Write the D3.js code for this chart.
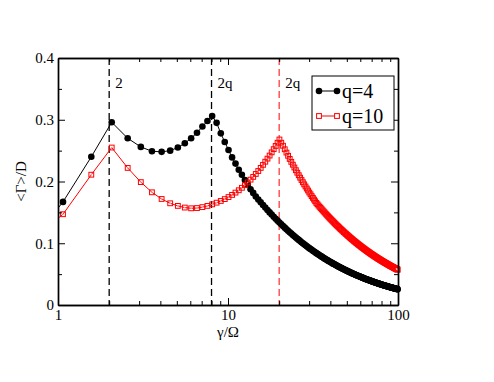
<!DOCTYPE html>
<html>
<head>
<meta charset="utf-8">
<script src="https://cdn.jsdelivr.net/npm/d3@7"></script>
<style>
body { margin: 0; background: #fff; }
svg text { font-family: "Liberation Serif", "Times New Roman", "DejaVu Serif", serif; }
</style>
</head>
<body>
<div id="container"></div>
<script>
// gamma/Omega sample points
const gamma = [
  0.57,1.07,1.57,2.07,2.57,3.07,3.57,4.07,4.57,5.07,
  5.57,6.07,6.57,7.07,7.57,8.07,8.57,9.07,9.57,10.07,
  10.57,11.07,11.57,12.07,12.57,13.07,13.57,14.07,14.57,15.07,
  15.57,16.07,16.57,17.07,17.57,18.07,18.57,19.07,19.57,20.07,
  20.57,21.07,21.57,22.07,22.57,23.07,23.57,24.07,24.57,25.07,
  25.57,26.07,26.57,27.07,27.57,28.07,28.57,29.07,29.57,30.07,
  30.57,31.07,31.57,32.07,32.57,33.07,33.57,34.07,34.57,35.07,
  35.57,36.07,36.57,37.07,37.57,38.07,38.57,39.07,39.57,40.07,
  40.57,41.07,41.57,42.07,42.57,43.07,43.57,44.07,44.57,45.07,
  45.57,46.07,46.57,47.07,47.57,48.07,48.57,49.07,49.57,50.07,
  50.57,51.07,51.57,52.07,52.57,53.07,53.57,54.07,54.57,55.07,
  55.57,56.07,56.57,57.07,57.57,58.07,58.57,59.07,59.57,60.07,
  60.57,61.07,61.57,62.07,62.57,63.07,63.57,64.07,64.57,65.07,
  65.57,66.07,66.57,67.07,67.57,68.07,68.57,69.07,69.57,70.07,
  70.57,71.07,71.57,72.07,72.57,73.07,73.57,74.07,74.57,75.07,
  75.57,76.07,76.57,77.07,77.57,78.07,78.57,79.07,79.57,80.07,
  80.57,81.07,81.57,82.07,82.57,83.07,83.57,84.07,84.57,85.07,
  85.57,86.07,86.57,87.07,87.57,88.07,88.57,89.07,89.57,90.07,
  90.57,91.07,91.57,92.07,92.57,93.07,93.57,94.07,94.57,95.07,
  95.57,96.07,96.57,97.07,97.57,98.07,98.57,99.07,99.57
];

// <Gamma>/D for q=4
const q4 = [
  0.072,0.167,0.240,0.296,0.270,0.256,0.249,0.248,0.250,0.255,
  0.262,0.270,0.279,0.289,0.298,0.306,0.295,0.278,0.264,0.251,
  0.239,0.229,0.219,0.211,0.2025,0.195,0.1875,0.1815,0.1756,0.1708,
  0.1662,0.1619,0.1577,0.1538,0.1500,0.1464,0.1430,0.1397,0.1366,0.1336,
  0.1307,0.1279,0.1253,0.1227,0.1203,0.1179,0.1156,0.1134,0.1113,0.1092,
  0.1073,0.1054,0.1035,0.1017,0.1000,0.0983,0.0967,0.0951,0.0936,0.0921,
  0.0907,0.0893,0.0879,0.0866,0.0853,0.0840,0.0828,0.0816,0.0805,0.0794,
  0.0783,0.0772,0.0762,0.0751,0.0742,0.0732,0.0722,0.0713,0.0704,0.0695,
  0.0687,0.0678,0.0670,0.0662,0.0654,0.0646,0.0639,0.0631,0.0624,0.0617,
  0.0610,0.0603,0.0597,0.0590,0.0584,0.0577,0.0571,0.0565,0.0559,0.0553,
  0.0548,0.0542,0.0537,0.0531,0.0526,0.0521,0.0515,0.0510,0.0505,0.0501,
  0.0496,0.0491,0.0486,0.0482,0.0477,0.0473,0.0469,0.0464,0.0460,0.0456,
  0.0452,0.0448,0.0444,0.0440,0.0436,0.0432,0.0429,0.0425,0.0421,0.0418,
  0.0414,0.0411,0.0408,0.0404,0.0401,0.0398,0.0394,0.0391,0.0388,0.0385,
  0.0382,0.0379,0.0376,0.0373,0.0370,0.0367,0.0364,0.0362,0.0359,0.0356,
  0.0353,0.0351,0.0348,0.0346,0.0343,0.0341,0.0338,0.0336,0.0333,0.0331,
  0.0328,0.0326,0.0324,0.0321,0.0319,0.0317,0.0315,0.0313,0.0310,0.0308,
  0.0306,0.0304,0.0302,0.0300,0.0298,0.0296,0.0294,0.0292,0.0290,0.0288,
  0.0286,0.0284,0.0283,0.0281,0.0279,0.0277,0.0275,0.0274,0.0272,0.0270,
  0.0268,0.0267,0.0265,0.0263,0.0262,0.0260,0.0259,0.0257,0.0255
];

// <Gamma>/D for q=10
const q10 = [
  0.085,0.147,0.211,0.255,0.222,0.199,0.1825,0.1717,0.1647,0.1605,
  0.1578,0.1566,0.157,0.1585,0.1605,0.163,0.1657,0.1685,0.1715,0.1748,
  0.1783,0.182,0.1858,0.1898,0.194,0.1985,0.203,0.2075,0.2122,0.217,
  0.222,0.227,0.232,0.237,0.242,0.2472,0.2524,0.2576,0.2628,0.268,
  0.2628,0.2579,0.2522,0.2468,0.2416,0.2366,0.2318,0.2272,0.2227,0.2183,
  0.2142,0.2102,0.2062,0.2024,0.1988,0.1953,0.1919,0.1886,0.1854,0.1822,
  0.1793,0.1763,0.1735,0.1707,0.1680,0.1653,0.1632,0.1611,0.1590,0.1571,
  0.1551,0.1532,0.1514,0.1496,0.1478,0.1461,0.1444,0.1427,0.1411,0.1395,
  0.1380,0.1365,0.1350,0.1335,0.1321,0.1307,0.1293,0.1280,0.1267,0.1254,
  0.1241,0.1229,0.1217,0.1205,0.1193,0.1181,0.1170,0.1159,0.1148,0.1137,
  0.1127,0.1116,0.1106,0.1096,0.1086,0.1076,0.1067,0.1057,0.1048,0.1039,
  0.1030,0.1021,0.1013,0.1004,0.0996,0.0988,0.0979,0.0971,0.0964,0.0956,
  0.0948,0.0941,0.0933,0.0926,0.0919,0.0911,0.0904,0.0898,0.0891,0.0884,
  0.0877,0.0871,0.0864,0.0858,0.0852,0.0846,0.0839,0.0833,0.0827,0.0822,
  0.0816,0.0810,0.0804,0.0799,0.0793,0.0788,0.0782,0.0777,0.0772,0.0767,
  0.0762,0.0756,0.0751,0.0747,0.0742,0.0737,0.0732,0.0727,0.0723,0.0718,
  0.0714,0.0709,0.0705,0.0700,0.0696,0.0692,0.0687,0.0683,0.0679,0.0675,
  0.0671,0.0667,0.0663,0.0659,0.0655,0.0651,0.0647,0.0643,0.0640,0.0636,
  0.0632,0.0629,0.0625,0.0622,0.0618,0.0615,0.0611,0.0608,0.0604,0.0601,
  0.0598,0.0594,0.0591,0.0588,0.0585,0.0582,0.0578,0.0575,0.0572
];

const xTicks = [1, 10, 100];
const xMinor = [2, 3, 4, 5, 6, 7, 8, 9, 20, 30, 40, 50, 60, 70, 80, 90];
const yTicks = [0, 0.1, 0.2, 0.3, 0.4];
const yMinor = [0.05, 0.15, 0.25, 0.35];

// vertical guide lines: 2 and 2q
const guides = [
  { x: 2, label: "2", color: "#000" },
  { x: 8, label: "2q", color: "#000" },
  { x: 20, label: "2q", color: "#ff3b3b" }
];

const series = [
  { name: "q=4", values: q4, color: "#000", symbol: "circle" },
  { name: "q=10", values: q10, color: "#ff0000", symbol: "square" }
];

const FONT = "'Liberation Serif', 'Times New Roman', 'DejaVu Serif', serif";

function draw() {
  const W = 494, H = 382;
  const margin = { top: 58, right: 96, bottom: 77, left: 58 };
  const width = W - margin.left - margin.right;
  const height = H - margin.top - margin.bottom;

  const svg = d3.select("#container").append("svg")
      .attr("width", W)
      .attr("height", H)
      .attr("font-family", FONT);

  const g = svg.append("g")
      .attr("transform", `translate(${margin.left},${margin.top})`);

  const x = d3.scaleLog().domain([1, 100]).range([0, width]);
  const y = d3.scaleLinear().domain([0, 0.4]).range([height, 0]);

  g.append("clipPath").attr("id", "plot-clip")
    .append("rect").attr("width", width).attr("height", height);

  // dashed guides
  g.selectAll("line.guide")
    .data(guides)
    .enter().append("line")
      .attr("class", "guide")
      .attr("x1", d => x(d.x)).attr("x2", d => x(d.x))
      .attr("y1", 0).attr("y2", height)
      .attr("stroke", d => d.color)
      .attr("stroke-width", 1.3)
      .attr("stroke-dasharray", "7,4");

  g.selectAll("text.guide-label")
    .data(guides)
    .enter().append("text")
      .attr("class", "guide-label")
      .attr("x", d => x(d.x) + 6)
      .attr("y", 30)
      .attr("font-size", 15)
      .attr("fill", "#000")
      .text(d => d.label);

  const line = d3.line()
      .x(d => x(d[0]))
      .y(d => y(d[1]));

  series.forEach(s => {
    const pts = gamma.map((gm, i) => [gm, s.values[i]]);
    g.append("path")
      .datum(pts)
      .attr("clip-path", "url(#plot-clip)")
      .attr("fill", "none")
      .attr("stroke", s.color)
      .attr("stroke-width", 1)
      .attr("d", line);

    const shown = pts.filter(d => d[0] >= 1);
    if (s.symbol === "circle") {
      g.append("g").selectAll("circle")
        .data(shown)
        .enter().append("circle")
          .attr("cx", d => x(d[0]))
          .attr("cy", d => y(d[1]))
          .attr("r", 3.3)
          .attr("fill", s.color);
    } else {
      const sq = g.append("g").selectAll("g")
        .data(shown)
        .enter().append("g")
          .attr("transform", d => `translate(${x(d[0])},${y(d[1])})`);
      sq.append("rect")
        .attr("x", -2.4).attr("y", -2.4)
        .attr("width", 4.8).attr("height", 4.8)
        .attr("fill", "none")
        .attr("stroke", s.color)
        .attr("stroke-width", 1);
      sq.append("rect")
        .attr("x", -0.7).attr("y", -0.7)
        .attr("width", 1.4).attr("height", 1.4)
        .attr("fill", "#f7a0a0");
    }
  });

  // axes, ticks pointing inward
  const fmtY = d => d === 0 ? "0" : d.toFixed(1);
  const axisStyle = sel => {
    sel.attr("font-family", FONT).attr("font-size", 15);
    sel.select(".domain").attr("stroke", "#000").attr("stroke-width", 1.4);
    sel.selectAll(".tick line").attr("stroke", "#000").attr("stroke-width", 1);
    sel.selectAll("text").attr("fill", "#000");
  };

  g.append("g")
      .attr("transform", `translate(0,${height})`)
      .call(d3.axisBottom(x).tickValues(xTicks).tickFormat(d3.format("d"))
        .tickSizeInner(-7).tickSizeOuter(0).tickPadding(4))
      .call(axisStyle);
  g.append("g")
      .attr("transform", `translate(0,${height})`)
      .call(d3.axisBottom(x).tickValues(xMinor).tickFormat("")
        .tickSizeInner(-4).tickSizeOuter(0))
      .call(axisStyle);

  g.append("g")
      .call(d3.axisTop(x).tickValues(xTicks).tickFormat("")
        .tickSizeInner(-7).tickSizeOuter(0))
      .call(axisStyle);
  g.append("g")
      .call(d3.axisTop(x).tickValues(xMinor).tickFormat("")
        .tickSizeInner(-4).tickSizeOuter(0))
      .call(axisStyle);

  g.append("g")
      .call(d3.axisLeft(y).tickValues(yTicks).tickFormat(fmtY)
        .tickSizeInner(-7).tickSizeOuter(0).tickPadding(4))
      .call(axisStyle);
  g.append("g")
      .call(d3.axisLeft(y).tickValues(yMinor).tickFormat("")
        .tickSizeInner(-4).tickSizeOuter(0))
      .call(axisStyle);

  g.append("g")
      .attr("transform", `translate(${width},0)`)
      .call(d3.axisRight(y).tickValues(yTicks).tickFormat("")
        .tickSizeInner(-7).tickSizeOuter(0))
      .call(axisStyle);
  g.append("g")
      .attr("transform", `translate(${width},0)`)
      .call(d3.axisRight(y).tickValues(yMinor).tickFormat("")
        .tickSizeInner(-4).tickSizeOuter(0))
      .call(axisStyle);

  // axis titles
  g.append("text")
      .attr("x", width / 2)
      .attr("y", height + 32)
      .attr("text-anchor", "middle")
      .attr("font-size", 15)
      .text("γ/Ω");

  g.append("text")
      .attr("transform", `translate(-32,${height / 2}) rotate(-90)`)
      .attr("text-anchor", "middle")
      .attr("font-size", 15)
      .text("<Γ>/D");

  // legend
  const legend = g.append("g")
      .attr("transform", `translate(${width - 86},18)`);
  legend.append("rect")
      .attr("width", 82).attr("height", 54)
      .attr("fill", "#fff")
      .attr("stroke", "#000")
      .attr("stroke-width", 1);

  const rows = legend.selectAll("g.row")
    .data(series)
    .enter().append("g")
      .attr("class", "row")
      .attr("transform", (d, i) => `translate(0,${15 + i * 25})`);

  rows.append("line")
      .attr("x1", 7).attr("x2", 25)
      .attr("stroke", d => d.color)
      .attr("stroke-width", 1);

  rows.each(function(d) {
    const r = d3.select(this);
    [7, 25].forEach(cx => {
      if (d.symbol === "circle") {
        r.append("circle").attr("cx", cx).attr("cy", 0).attr("r", 3.3).attr("fill", d.color);
      } else {
        r.append("rect").attr("x", cx - 2.4).attr("y", -2.4)
          .attr("width", 4.8).attr("height", 4.8)
          .attr("fill", "#fff").attr("stroke", d.color).attr("stroke-width", 1);
      }
    });
  });

  rows.append("text")
      .attr("x", 30)
      .attr("dy", "0.35em")
      .attr("font-size", 20)
      .text(d => d.name);
}

draw();
</script>
</body>
</html>
